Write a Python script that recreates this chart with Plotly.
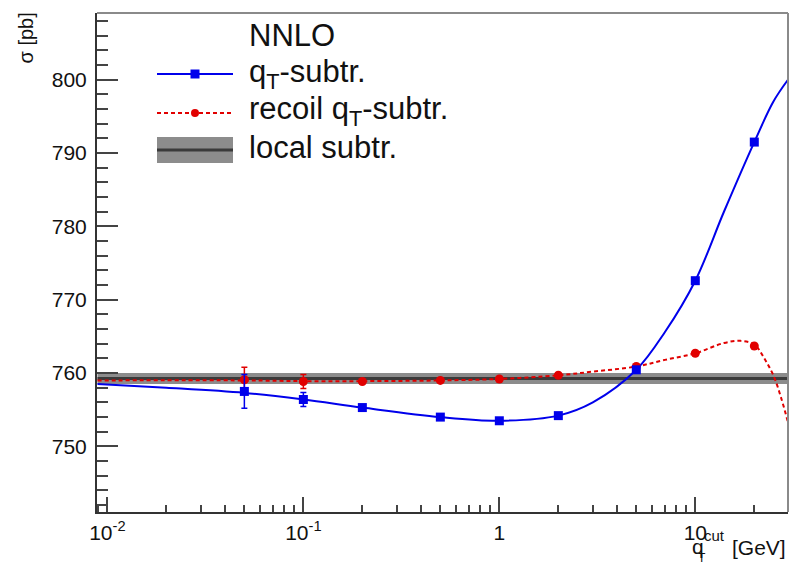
import plotly.graph_objects as go

# ---------------- data ----------------
qt_cut = [0.05, 0.1, 0.2, 0.5, 1, 2, 5, 10, 20]
sigma_qt = [757.5, 756.4, 755.3, 754.0, 753.5, 754.2, 760.45, 772.6, 791.5]
err_qt = [2.3, 0.95, 0, 0, 0, 0, 0, 0, 0]
sigma_recoil = [759.1, 758.85, 758.85, 759.0, 759.2, 759.7, 760.9, 762.7, 763.7]
err_recoil = [1.7, 0.95, 0, 0, 0, 0, 0, 0, 0]

curve_x_qt = [0.0089, 0.02, 0.05, 0.1, 0.2, 0.5, 1, 2, 3, 5, 7, 10, 14, 20, 25, 29.7]
curve_y_qt = [758.5, 758.0, 757.3, 756.4, 755.3, 754.0, 753.5, 754.2, 756.0, 760.45,
              765.6, 772.6, 782.0, 791.5, 797.0, 800.0]

curve_x_recoil = [0.0089, 0.05, 0.1, 0.2, 0.5, 1, 2, 3, 5, 7, 10, 14, 17, 20, 22.5, 25.1, 27.5, 29.7]
curve_y_recoil = [759.0, 759.0, 758.9, 758.9, 759.0, 759.2, 759.7, 760.2, 760.9, 761.8,
                  762.7, 764.1, 764.4, 763.9, 762.0, 759.6, 756.5, 753.3]

band_x = [0.0089, 29.7]
local_central = [759.25, 759.25]
local_lo = [758.5, 758.5]
local_hi = [760.0, 760.0]

x_tickvals = [0.01, 0.1, 1, 10]
x_ticktext = ["10<sup>-2</sup>", "10<sup>-1</sup>", "1", "10"]
x_minor = [m * 10.0 ** e for e in range(-3, 2) for m in range(2, 10)]

# ---------------- styling ----------------
BLUE = "rgb(0,0,235)"
RED = "rgb(225,0,0)"
FONT = "Liberation Sans, Arial, sans-serif"

W, H = 791, 565
X0, X1, Y0, Y1 = 97, 788, 13, 512


def px(x):
    return (x - X0) / (X1 - X0)


def py(y):
    return (Y1 - y) / (Y1 - Y0)


fig = go.Figure()

# local subtraction band
fig.add_trace(go.Scatter(x=band_x, y=local_lo, mode="lines", line=dict(width=0),
                         showlegend=False, hoverinfo="skip"))
fig.add_trace(go.Scatter(x=band_x, y=local_hi, mode="lines", line=dict(width=0),
                         fill="tonexty", fillcolor="rgba(120,120,120,0.85)",
                         showlegend=False, hoverinfo="skip"))
fig.add_trace(go.Scatter(x=band_x, y=local_central, mode="lines",
                         line=dict(color="#3a3a3a", width=3), name="local subtr.",
                         showlegend=False))

# fitted curves
fig.add_trace(go.Scatter(x=curve_x_recoil, y=curve_y_recoil, mode="lines",
                         line=dict(color=RED, width=2, dash="4px,3px", shape="spline"),
                         showlegend=False, hoverinfo="skip"))
fig.add_trace(go.Scatter(x=curve_x_qt, y=curve_y_qt, mode="lines",
                         line=dict(color=BLUE, width=2, shape="spline"),
                         showlegend=False, hoverinfo="skip"))

# data points
fig.add_trace(go.Scatter(x=qt_cut, y=sigma_recoil, mode="markers", name="recoil qT-subtr.",
                         marker=dict(color=RED, size=9, symbol="circle"),
                         error_y=dict(type="data", array=err_recoil, color=RED,
                                      thickness=1.5, width=3),
                         showlegend=False))
fig.add_trace(go.Scatter(x=qt_cut, y=sigma_qt, mode="markers", name="qT-subtr.",
                         marker=dict(color=BLUE, size=9, symbol="square"),
                         error_y=dict(type="data", array=err_qt, color=BLUE,
                                      thickness=1.5, width=3),
                         showlegend=False))

# ---------------- hand-drawn legend (ROOT style) ----------------
shapes = []
annotations = []
lx0, lx1, lmx = 157, 233, 195
# blue
shapes.append(dict(type="line", xref="paper", yref="paper", x0=px(lx0), x1=px(lx1),
                   y0=py(74), y1=py(74), line=dict(color=BLUE, width=2)))
shapes.append(dict(type="rect", xref="paper", yref="paper", x0=px(lmx - 4.5), x1=px(lmx + 4.5),
                   y0=py(74 - 4.5), y1=py(74 + 4.5), fillcolor=BLUE, line=dict(width=0)))
# red
shapes.append(dict(type="line", xref="paper", yref="paper", x0=px(lx0), x1=px(lx1),
                   y0=py(113), y1=py(113), line=dict(color=RED, width=2, dash="4px,3px")))
shapes.append(dict(type="circle", xref="paper", yref="paper", x0=px(lmx - 4), x1=px(lmx + 4),
                   y0=py(113 - 4), y1=py(113 + 4), fillcolor=RED, line=dict(width=0)))
# band
shapes.append(dict(type="rect", xref="paper", yref="paper", x0=px(lx0), x1=px(lx1),
                   y0=py(137), y1=py(163), fillcolor="rgba(120,120,120,0.85)", line=dict(width=0)))
shapes.append(dict(type="line", xref="paper", yref="paper", x0=px(lx0), x1=px(lx1),
                   y0=py(150), y1=py(150), line=dict(color="#3a3a3a", width=3)))

# frame top / right
shapes.append(dict(type="line", xref="paper", yref="paper", x0=0, x1=1, y0=1, y1=1,
                   line=dict(color="#8a8a8a", width=2)))
shapes.append(dict(type="line", xref="paper", yref="paper", x0=1, x1=1, y0=0, y1=1,
                   line=dict(color="#8a8a8a", width=2)))

LF = 31
for txt, yc in [("NNLO", 35.5), ("q<sub>T</sub>-subtr.", 74), ("recoil q<sub>T</sub>-subtr.", 111),
                ("local subtr.", 147)]:
    annotations.append(dict(text=txt, xref="paper", yref="paper", x=px(247), y=py(yc),
                            xanchor="left", yanchor="middle", showarrow=False,
                            font=dict(family=FONT, size=LF, color="#111")))

# y title
annotations.append(dict(text="σ [pb]", xref="paper", yref="paper", x=px(25), y=py(11),
                        xanchor="center", yanchor="top", textangle=-90, showarrow=False,
                        font=dict(family=FONT, size=20, color="#111")))
# x title (ROOT-like stacked sub/sup)
annotations.append(dict(text="[GeV]", xref="paper", yref="paper", x=px(788), y=py(547),
                        xanchor="right", yanchor="middle", showarrow=False,
                        font=dict(family=FONT, size=21, color="#111")))
annotations.append(dict(text="q", xref="paper", yref="paper", x=px(697.5), y=py(546),
                        xanchor="center", yanchor="middle", showarrow=False,
                        font=dict(family=FONT, size=21, color="#111")))
annotations.append(dict(text="cut", xref="paper", yref="paper", x=px(714.5), y=py(535),
                        xanchor="center", yanchor="middle", showarrow=False,
                        font=dict(family=FONT, size=15, color="#111")))
annotations.append(dict(text="T", xref="paper", yref="paper", x=px(701.5), y=py(558),
                        xanchor="center", yanchor="middle", showarrow=False,
                        font=dict(family=FONT, size=12, color="#111")))

fig.update_layout(
    width=W, height=H,
    margin=dict(l=X0, r=W - X1, t=Y0, b=H - Y1, pad=0),
    paper_bgcolor="white", plot_bgcolor="white",
    showlegend=False,
    shapes=shapes, annotations=annotations,
    font=dict(family=FONT, color="#111"),
)

fig.update_xaxes(
    type="log", range=[-2.053, 1.473],
    showgrid=False, zeroline=False,
    showline=True, linecolor="#333", linewidth=2,
    ticks="inside", ticklen=15, tickwidth=1.5, tickcolor="#444",
    tickvals=x_tickvals, ticktext=x_ticktext,
    tickfont=dict(family=FONT, size=21, color="#111"),
    ticklabelstandoff=1,
    minor=dict(tickvals=x_minor, ticks="inside", ticklen=7.5, tickwidth=1.5,
               tickcolor="#444", showgrid=False),
)
fig.update_yaxes(
    range=[741.06, 809.1],
    showgrid=False, zeroline=False,
    showline=True, linecolor="#333", linewidth=2,
    ticks="inside", ticklen=21, tickwidth=1.5, tickcolor="#444",
    tick0=0, dtick=10,
    tickfont=dict(family=FONT, size=21, color="#111"),
    ticklabelstandoff=4,
    minor=dict(dtick=2, tick0=0, ticks="inside", ticklen=11, tickwidth=1.5,
               tickcolor="#444", showgrid=False),
)

fig.write_html("out.html")
